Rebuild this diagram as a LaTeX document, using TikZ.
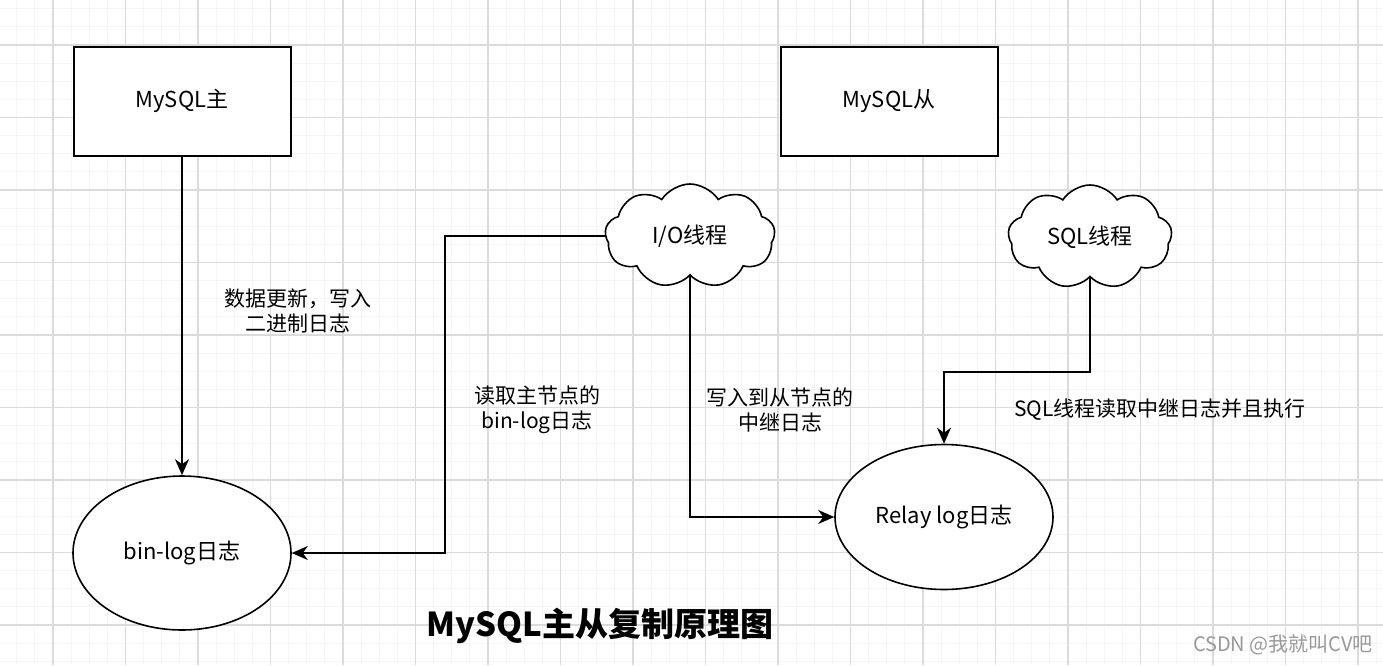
\documentclass[tikz,border=0pt]{standalone}
\usepackage{fontspec}
\setmainfont{Noto Sans CJK SC}
\usetikzlibrary{arrows.meta,calc,shapes.geometric,shapes.symbols}
\definecolor{GridMinorClr}{rgb}{0.96,0.96,0.96}
\definecolor{GridMajorClr}{rgb}{0.86,0.86,0.86}
\definecolor{MarkClr}{rgb}{0.6,0.6,0.6}

\begin{document}
\begin{tikzpicture}[x=0.5pt,y=-0.5pt,
  boxnode/.style={draw,line width=1pt,minimum width=108.5pt,minimum height=54.5pt,
    font=\fontsize{11}{13}\selectfont},
  lognode/.style={draw,ellipse,line width=0.8pt,minimum width=109pt,
    font=\fontsize{11}{13}\selectfont},
  threadnode/.style={draw,cloud,cloud puffs=9,cloud puff arc=115,aspect=1.6,
    line width=0.8pt,inner sep=0pt,font=\fontsize{11}{13}\selectfont},
  lbl/.style={align=center,font=\fontsize{10.5}{12.5}\selectfont},
  arr/.style={line width=0.8pt,-{Stealth[length=8pt,width=7pt,inset=2.5pt]}}]
\useasboundingbox (0,0) rectangle (1383,665);

% background grid
\fill[white] (0,0) rectangle (1383,665);
\foreach \i in {0,...,76}
  \draw[GridMinorClr,line width=0.5pt] (16.75+18.125*\i,0) -- (16.75+18.125*\i,665);
\foreach \i in {0,...,36}
  \draw[GridMinorClr,line width=0.5pt] (0,8.75+18.125*\i) -- (1383,8.75+18.125*\i);
\foreach \i in {0,...,18}
  \draw[GridMajorClr,line width=0.6pt] (53+72.5*\i,0) -- (53+72.5*\i,665);
\foreach \i in {0,...,8}
  \draw[GridMajorClr,line width=0.6pt] (0,45+72.5*\i) -- (1383,45+72.5*\i);

% nodes
\node[boxnode,fill=white] (master) at (182,101) {MySQL主};
\node[boxnode,fill=white] (slave) at (889,101) {MySQL从};
\node[lognode,fill=white,minimum height=77pt] (binlog) at (182,553) {bin-log日志};
\node[lognode,fill=white,minimum height=72.5pt] (relay) at (944,517) {Relay log日志};
\node[threadnode,fill=white,minimum width=85pt,minimum height=52pt] (io) at (690,236) {I/O线程};
\node[threadnode,fill=white,minimum width=82pt,minimum height=52pt] (sql) at (1090,237) {SQL线程};

\coordinate (iojog) at (445,400);
\coordinate (sqljog) at (1090,372);

% connectors
\draw[arr] (master.south) -- (binlog.north);
\draw[arr] (io.west) -| (iojog) |- (binlog.east);
\draw[arr] (io.south) |- (relay.west);
\draw[arr] (sql.south) -- (sqljog) -| (relay.north);

% labels
\node[lbl] (lblwrite) at (298,311) {数据更新，写入\\二进制日志};
\node[lbl] (lblread) at (537,410) {读取主节点的\\bin-log日志};
\node[lbl] (lblrelay) at (780,410) {写入到从节点的\\中继日志};
\node[lbl] (lblexec) at (1160,410) {SQL线程读取中继日志并且执行};

\node[font=\fontsize{16.5}{19}\selectfont\bfseries] (title) at (600,626) {MySQL主从复制原理图};
\node[text=MarkClr,font=\fontsize{10}{12}\selectfont] (mark) at (1283,645) {CSDN @我就叫CV吧};
\end{tikzpicture}
\end{document}
